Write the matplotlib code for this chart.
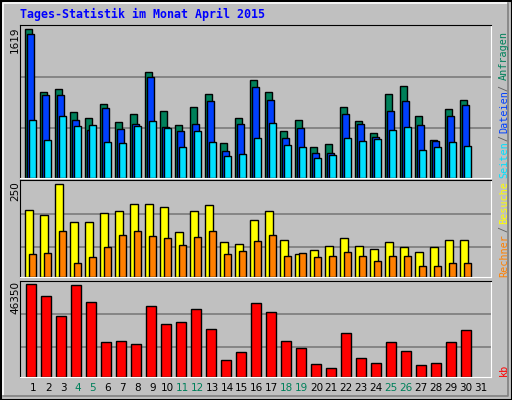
import matplotlib
matplotlib.use("Agg")
import matplotlib.pyplot as plt
from matplotlib.patches import Rectangle
from matplotlib.lines import Line2D

days = list(range(1, 32))
weekend = [4, 5, 11, 12, 18, 19, 25, 26]
hits = [1619, 938, 971, 718, 652, 806, 608, 696, 1158, 729, 575, 773, 916, 377, 652,
        1070, 938, 509, 630, 333, 366, 773, 619, 487, 916, 1004, 674, 410, 751, 850]
files = [1568, 905, 905, 630, 520, 762, 531, 586, 1103, 553, 509, 586, 839, 289, 586,
         993, 850, 432, 542, 267, 267, 696, 586, 443, 729, 839, 575, 399, 674, 795]
pages = [630, 410, 674, 564, 575, 388, 377, 564, 619, 542, 333, 509, 388, 234, 256,
         432, 597, 355, 333, 212, 245, 432, 399, 421, 520, 553, 300, 333, 388, 344]
visits = [182, 166, 250, 149, 149, 174, 179, 196, 196, 190, 122, 179, 193, 95, 90,
          155, 179, 101, 63, 73, 84, 106, 84, 76, 95, 82, 68, 82, 101, 101]
sites = [62, 65, 125, 38, 54, 82, 114, 125, 111, 106, 87, 109, 125, 62, 71,
         98, 114, 57, 65, 54, 57, 68, 57, 43, 57, 57, 30, 30, 38, 38]
kbytes = [46350, 40130, 30560, 45670, 37110, 17460, 17970, 16450, 35090, 26530, 27540,
          33580, 24010, 8400, 12420, 36600, 32570, 17970, 14440, 6380, 4370, 22000,
          9400, 6880, 17460, 12930, 5880, 6880, 17460, 23510]

W, H = 512, 400
BG = "#C0C0C0"
fig = plt.figure(figsize=(W / 100, H / 100), dpi=100, facecolor=BG)

def ax_at(x0, y0, x1, y1):
    return fig.add_axes([x0 / W, 1 - y1 / H, (x1 - x0) / W, (y1 - y0) / H])

X0, X1 = 20, 491
slot = 15.0
def xs(off):
    return [25.3 + off + slot * (d - 1) for d in range(1, len(hits) + 1)]

axes = []
specs = [(25, 177.5, 1666, [0.66, 0.325]),
         (180.3, 277, 261, [0.656, 0.3125]),
         (280.5, 376.5, 48110, [0.655, 0.31])]
for (y0, y1, ymax, grid) in specs:
    ax = ax_at(X0, y0, X1, y1)
    ax.set_facecolor(BG)
    ax.set_xlim(X0, X1)
    ax.set_ylim(0, ymax)
    for g in grid:
        ax.axhline(g * ymax, color="#808080", lw=1.3, zorder=0)
    ax.set_xticks([]); ax.set_yticks([])
    for s in ["left", "top"]:
        ax.spines[s].set_color("black")
    for s in ["right", "bottom"]:
        ax.spines[s].set_color("white")
    axes.append(ax)

a1, a2, a3 = axes
kw = dict(align="edge", edgecolor="black", linewidth=1, width=7)
a1.bar(xs(0), hits, color="#00805A", **kw)
a1.bar(xs(1.9), files, color="#0040FF", **kw)
a1.bar(xs(3.9), pages, color="#00E0FF", **kw)
a2.bar(xs(0), visits, color="#FFFF00", align="edge", edgecolor="black", linewidth=1, width=8)
a2.bar(xs(4), sites, color="#FF8000", **kw)
a3.bar(xs(1), kbytes, color="#FF0000", align="edge", edgecolor="black", linewidth=1, width=10)

for i, d in enumerate(days):
    x = 33.3 + 14.9 * i
    fig.text(x / W, 1 - 388 / H, str(d), ha="center", va="center", fontsize=7.5,
             color="#00805A" if d in weekend else "black")

mono = "DejaVu Sans Mono"
fig.text(20 / W, 1 - 14.5 / H, "Tages-Statistik im Monat April 2015", fontfamily=mono,
         fontweight="bold", fontsize=8.4, color="#0000FF", ha="left", va="center")

for txt, yc in [("1619", 40), ("250", 191), ("46350", 297)]:
    fig.text(15 / W, 1 - yc / H, txt, rotation=90, ha="center", va="center", fontsize=7.5)

rl = [("Anfragen", 56, "#00805A"), ("/", 87.5, "#606060"), ("Dateien", 112, "#0040FF"),
      ("/", 138, "#606060"), ("Seiten", 160, "#00E0FF"),
      ("Besuche", 203, "#FFFF00"), ("/", 229, "#606060"), ("Rechner", 256, "#FF8000"),
      ("kb", 370, "#FF0000")]
for txt, yc, c in rl:
    fig.text(504 / W, 1 - yc / H, txt, rotation=90, ha="center", va="center",
             fontsize=7.3, fontfamily=mono, color=c)

fig.add_artist(Rectangle((0.5 / W, 0.5 / H), 1 - 1 / W, 1 - 1 / H, transform=fig.transFigure,
                         fill=False, edgecolor="black", lw=1.5))
def pl(xa, ya, c):
    fig.add_artist(Line2D([v / W for v in xa], [1 - v / H for v in ya], color=c, lw=1.2,
                          transform=fig.transFigure))
pl([3, 3, 508], [396, 3, 3], "white")
pl([3, 508, 508], [396, 396, 3], "#808080")

fig.savefig("out.png", dpi=100, facecolor=BG)
